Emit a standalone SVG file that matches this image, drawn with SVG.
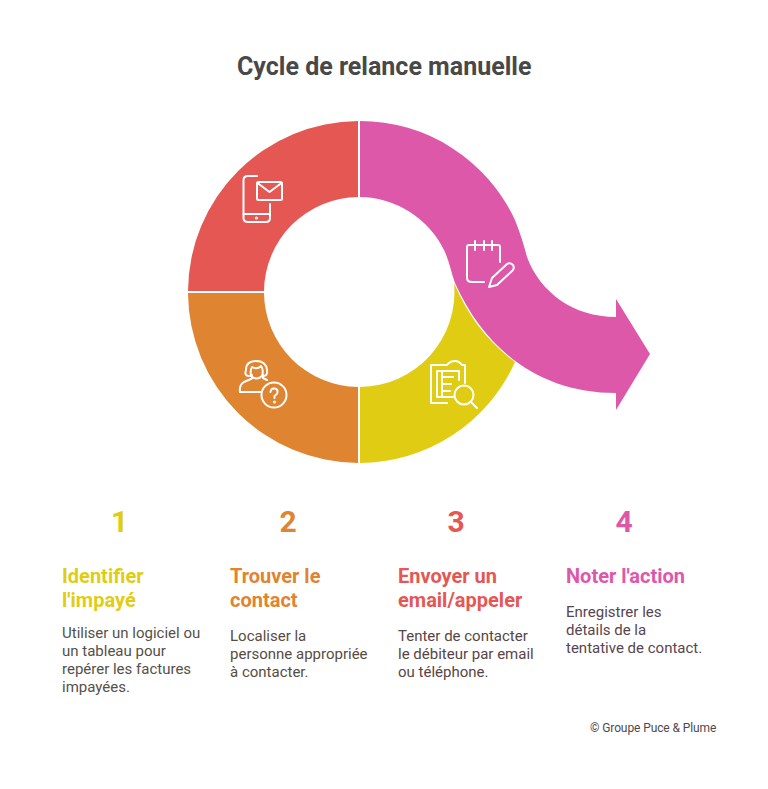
<svg xmlns="http://www.w3.org/2000/svg" width="768" height="789" viewBox="0 0 768 789">
<style>
text{font-family:Roboto,"Liberation Sans",sans-serif}
.title{font-size:25px;font-weight:700;fill:#484848}
.num{font-size:30px;font-weight:700;text-anchor:middle}
.head{font-size:20px;font-weight:700}
.body{font-size:15px}
.foot{font-size:12px;letter-spacing:-.1px;fill:#4f4a4a}
.ic{fill:none;stroke:#fff;stroke-width:2;stroke-linecap:round;stroke-linejoin:round}
</style>
<rect width="768" height="789" fill="#fff"/>
<text class="title" x="237" y="75">Cycle de relance manuelle</text>
<g id="segments">
<g id="seg-red"><path fill="#e55753" d="M358 121A171 171 0 0 0 188 291H264A95 95 0 0 1 358 197Z"/>
<g class="ic"><path d="M257 176H248Q243.500 176 243.500 180V218Q243.500 222 248 222H266Q270 222 270 218V204"/><path d="M243.500 214H270"/><rect x="257" y="182" width="25" height="18" rx="1.500"/><path d="M257.500 183L269.500 192L281.500 183"/><circle cx="256.500" cy="218" r=".6"/></g></g>
<g id="seg-orange"><path fill="#df8430" d="M188 293A171 171 0 0 0 358 463V387A95 95 0 0 1 264 293Z"/>
<g class="ic"><path d="M261 392H240Q239 385 244 382L252 378.500V375"/><path d="M263 375V378L267 380"/><path d="M249 376Q244 376 246 370Q246 361 256 361Q266 361 267 370Q268 376 263 376"/><path d="M251 376Q250 370 252 367Q257 370 261 366Q264 370 262 376Q257 381 251 376"/><circle cx="274" cy="395" r="12.500"/><path d="M270.500 392Q271 388 274.500 388.500Q278 389 277.500 392.500Q277 394.500 274.500 396V398"/><circle cx="274.500" cy="402" r=".6"/></g></g>
<g id="seg-yellow"><path fill="#e0cd13" d="M360 463A171 171 0 0 0 515 362C488 342 468 316 454 283A95 95 0 0 1 360 387Z"/>
<g class="ic"><path d="M447 403H431V365H447Q450 361 455 361Q459 361 462 365L465 365V383"/><path d="M453 397H437V371H459V380"/><path d="M442 371V397"/><path d="M442 377H453M442 384H451M442 391H450"/><circle cx="464" cy="395" r="9.500"/><path d="M471 402L477 408"/></g></g>
<g id="seg-pink"><path fill="#de58aa" d="M360 121A171 171 0 0 1 515 220C520 233 524 245 527 257C540 292 573 317 616 317V299L650 354L616 410V393C540 393 485 350 455 283C451 272 449 260 444 250A95 95 0 0 0 360 197Z"/>
<g class="ic"><path d="M484 282H472Q467 282 467 278V247Q467 245 469 245H498Q500 245 500 247V262"/><path d="M475 241V250M484 241V250M492 241V250"/><path d="M489 287L492 278L507 264Q510 262 513 265Q515 268 512 271L497 285Z"/></g></g>
</g>
<g id="step1"><text class="num" x="119.500" y="532" fill="#e0cd13">1</text><text class="head" x="62" y="582.500" fill="#e0cd13">Identifier</text><text class="head" x="62" y="606.500" fill="#e0cd13">l'impayé</text>
<g fill="#54514a"><text class="body" x="62" y="638">Utiliser un logiciel ou</text><text class="body" x="62" y="656">un tableau pour</text><text class="body" x="62" y="674">repérer les factures</text><text class="body" x="62" y="692">impayées.</text></g></g>
<g id="step2"><text class="num" x="288" y="532" fill="#df8430">2</text><text class="head" x="230" y="582.500" fill="#df8430">Trouver le</text><text class="head" x="230" y="606.500" fill="#df8430">contact</text>
<g fill="#574c42"><text class="body" x="230" y="641">Localiser la</text><text class="body" x="230" y="659">personne appropriée</text><text class="body" x="230" y="677">à contacter.</text></g></g>
<g id="step3"><text class="num" x="456" y="532" fill="#e55753">3</text><text class="head" x="398" y="582.500" fill="#e55753">Envoyer un</text><text class="head" x="398" y="606.500" fill="#e55753">email/appeler</text>
<g fill="#574545"><text class="body" x="398" y="641">Tenter de contacter</text><text class="body" x="398" y="659">le débiteur par email</text><text class="body" x="398" y="677">ou téléphone.</text></g></g>
<g id="step4"><text class="num" x="624" y="532" fill="#de58aa">4</text><text class="head" x="566" y="582.500" fill="#de58aa">Noter l'action</text>
<g fill="#57454f"><text class="body" x="566" y="617">Enregistrer les</text><text class="body" x="566" y="635">détails de la</text><text class="body" x="566" y="653">tentative de contact.</text></g></g>
<text class="foot" x="590" y="732">© Groupe Puce &amp; Plume</text>
</svg>
